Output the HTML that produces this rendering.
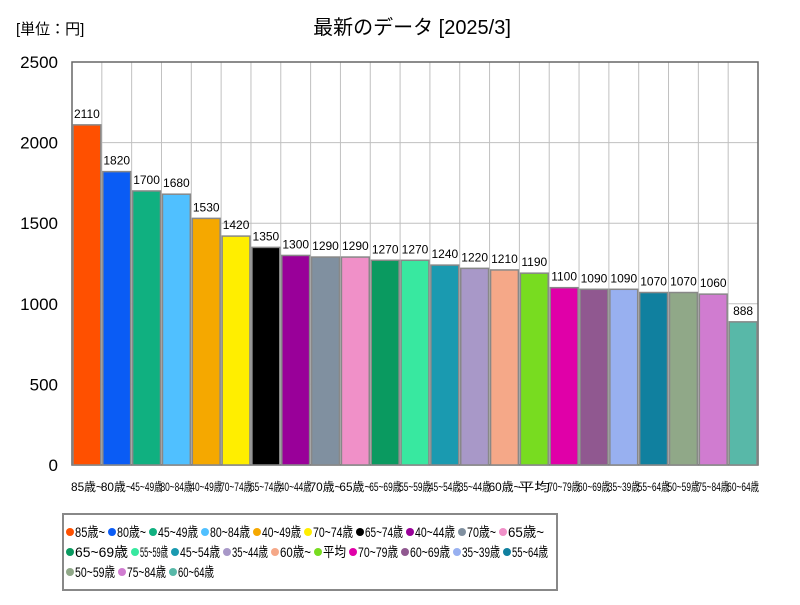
<!DOCTYPE html>
<html><head><meta charset="utf-8"><style>
body{margin:0;background:#fff;font-family:"Liberation Sans","Noto Sans CJK JP",sans-serif;}
</style></head><body>
<svg id="c" width="800" height="600" xmlns="http://www.w3.org/2000/svg" style="font-family:'Liberation Sans','Noto Sans CJK JP',sans-serif">
<text x="16" y="34" font-size="15">[単位：円]</text>
<text x="412" y="34" font-size="20" text-anchor="middle">最新のデータ [2025/3]</text>
<g id="grid"></g><g id="bars"></g><g id="xl"></g><g id="yl"></g>
<rect x="63" y="514" width="494" height="76" fill="none" stroke="#888" stroke-width="2"/>
<g id="leg"></g>
</svg>
<script>
const categories=["85歳~","80歳~","45~49歳","80~84歳","40~49歳","70~74歳","65~74歳","40~44歳","70歳~","65歳~","65~69歳","55~59歳","45~54歳","35~44歳","60歳~","平均","70~79歳","60~69歳","35~39歳","55~64歳","50~59歳","75~84歳","60~64歳"];
const values=[2110,1820,1700,1680,1530,1420,1350,1300,1290,1290,1270,1270,1240,1220,1210,1190,1100,1090,1090,1070,1070,1060,888];
const colors=["#ff5000","#0a5cf5","#10b080","#50c0ff","#f5a800","#ffee00","#000000","#990099","#8090a0","#f090c8","#0a9a60","#38e8a0","#1a9ab0","#a898c8","#f5a888","#78dc20","#e000a8","#905890","#98b0f0","#10809f","#90a888","#d07cd0","#58b8a8"];
const yTicks=[0,500,1000,1500,2000,2500];
const L=72,R=758,T=62,B=465,yMax=2500;
const NS="http://www.w3.org/2000/svg";
const bw=(R-L)/categories.length;
const ys=v=>B-(v/yMax)*(B-T);
const xs=i=>L+i*bw;
function mk(tag,attrs,parent){const e=document.createElementNS(NS,tag);for(const k in attrs)e.setAttribute(k,attrs[k]);document.getElementById(parent).appendChild(e);return e;}
yTicks.forEach(t=>{
 const l=mk("line",{x1:L,x2:R,y1:ys(t),y2:ys(t),stroke:"#c0c0c0"},"grid");
 
 
 const tx=mk("text",{x:L-14,y:ys(t)+6,"font-size":17,"text-anchor":"end"},"yl");
 tx.textContent=t;
 
 
});
for(let i=0;i<=categories.length;i++){
 const l=mk("line",{x1:xs(i),x2:xs(i),y1:T,y2:B,stroke:"#c0c0c0"},"grid");
 
 
}
const f=mk("rect",{x:L,y:T,width:R-L,height:B-T,fill:"none",stroke:"#666","stroke-width":1.5},"grid");


categories.forEach((c,i)=>{
 const r=mk("rect",{x:xs(i)+1,y:ys(values[i]),width:bw-2,height:B-ys(values[i]),fill:colors[i],stroke:"#888","stroke-width":1.5},"bars");
 
 
 const v=mk("text",{x:xs(i)+bw/2,y:ys(values[i])-7,"font-size":12,"text-anchor":"middle"},"bars");
 v.textContent=values[i];
 
 
 const x=mk("text",{x:xs(i)+bw/2,y:491,"font-size":12,"text-anchor":"middle",textLength:bw+2,lengthAdjust:"spacingAndGlyphs"},"xl");
 x.textContent=c;
 
 
});
const rowX=[[70,112,153,205,257,308,360,410,462,503],[70,135,175,227,275,318,353,405,457,507],[70,122,173]];
categories.forEach((c,i)=>{
 const row=Math.floor(i/10),col=i%10;
 const x=rowX[row][col];
 const nx=rowX[row][col+1]!==undefined?rowX[row][col+1]:x+(c.length>3?48:30);
 const y=532+row*20;
 const d=mk("circle",{cx:x,cy:y,r:4,fill:colors[i]},"leg");
 
 
 const t=mk("text",{x:x+5,y:y+5,"font-size":14,textLength:nx-x-12,lengthAdjust:"spacingAndGlyphs"},"leg");
 t.textContent=c;
 
 
});
</script>
</body></html>
